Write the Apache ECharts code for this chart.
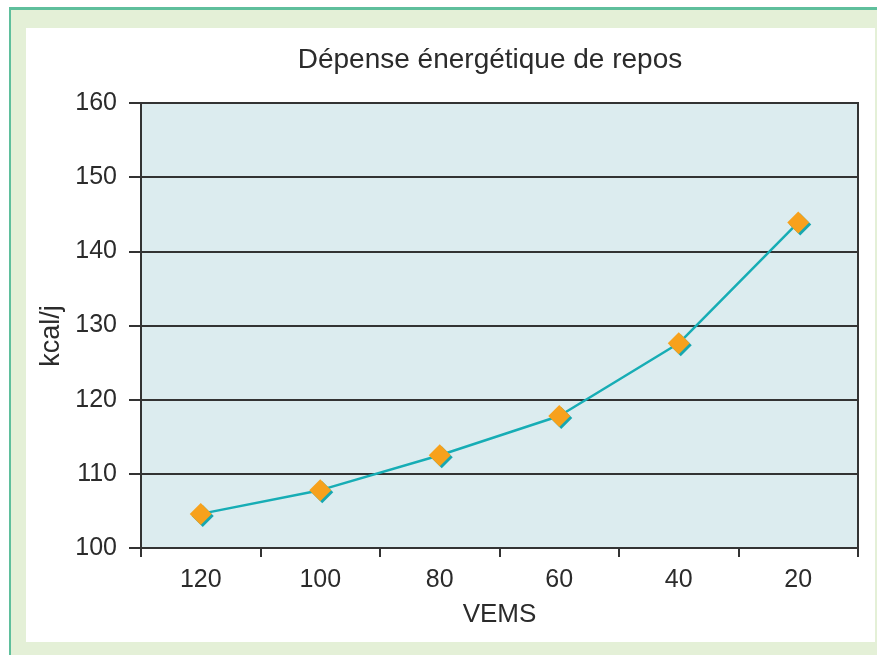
<!DOCTYPE html>
<html>
<head>
<meta charset="utf-8">
<script src="https://cdn.jsdelivr.net/npm/echarts@6/dist/echarts.min.js"></script>
<style>
  html, body { margin: 0; padding: 0; background: #ffffff; }
  #chart { width: 877px; height: 655px; }
</style>
</head>
<body>
<div id="chart"></div>
<script>
// Resting energy expenditure vs. FEV1 (VEMS)
const categories = ['120', '100', '80', '60', '40', '20'];
const values = [104.6, 107.8, 112.5, 117.8, 127.6, 143.9];
const yTicks = [100, 110, 120, 130, 140, 150, 160];
const yAxisTitle = 'kcal/j';

const chart = echarts.init(document.getElementById('chart'), null, { renderer: 'canvas' });

const axisColor = '#333333';
const textColor = '#2b2b2b';
const labelFont = 'Liberation Sans, Arial, sans-serif';

chart.setOption({
  animation: false,
  backgroundColor: '#ffffff',
  graphic: [
    // outer light-green frame with teal rule on top and left
    { type: 'rect', z: -10, shape: { x: 10, y: 9, width: 867, height: 646 }, style: { fill: '#e4f0d7' } },
    { type: 'rect', z: -9, shape: { x: 26, y: 28, width: 849, height: 614 }, style: { fill: '#ffffff' } },
    { type: 'rect', z: -8, shape: { x: 9, y: 7, width: 868, height: 3 }, style: { fill: '#5fbf9c' } },
    { type: 'rect', z: -8, shape: { x: 9, y: 7, width: 2, height: 648 }, style: { fill: '#5fbf9c' } },
    // vertical axis title
    {
      type: 'text', x: 52, y: 336, rotation: Math.PI / 2,
      style: {
        text: yAxisTitle, align: 'center', verticalAlign: 'middle',
        font: '27px "Liberation Sans", Arial, sans-serif', fill: textColor
      }
    }
  ],
  title: {
    text: 'Dépense énergétique de repos',
    left: 485,
    top: 41,
    textAlign: 'center',
    textStyle: { fontFamily: labelFont, fontWeight: 'normal', fontSize: 28, color: textColor }
  },
  grid: {
    left: 141, right: 19, top: 103, bottom: 107,
    show: true,
    backgroundColor: '#dcecef',
    borderColor: axisColor,
    borderWidth: 2
  },
  xAxis: {
    type: 'category',
    data: categories,
    boundaryGap: true,
    name: 'VEMS',
    nameLocation: 'middle',
    nameGap: 54,
    nameTextStyle: { fontFamily: labelFont, fontSize: 26, color: textColor },
    axisLine: { lineStyle: { color: axisColor, width: 2 } },
    axisTick: { show: true, alignWithLabel: false, length: 9, lineStyle: { color: axisColor, width: 2 } },
    axisLabel: { fontFamily: labelFont, fontSize: 25, color: textColor, margin: 20 },
    splitLine: { show: false }
  },
  yAxis: {
    type: 'value',
    min: yTicks[0],
    max: yTicks[yTicks.length - 1],
    interval: 10,
    axisLine: { show: true, lineStyle: { color: axisColor, width: 2 } },
    axisTick: { show: true, length: 12, lineStyle: { color: axisColor, width: 2 } },
    axisLabel: { fontFamily: labelFont, fontSize: 25, color: textColor, margin: 24 },
    splitLine: { show: true, lineStyle: { color: axisColor, width: 2 } }
  },
  series: [{
    type: 'line',
    data: values,
    symbol: 'diamond',
    symbolSize: [22, 22],
    lineStyle: { color: '#17adb5', width: 2.5 },
    itemStyle: {
      color: '#f7a11c',
      borderWidth: 0,
      shadowColor: '#17a7b0',
      shadowBlur: 0,
      shadowOffsetX: 2,
      shadowOffsetY: 2
    },
    z: 5
  }]
});
</script>
</body>
</html>
